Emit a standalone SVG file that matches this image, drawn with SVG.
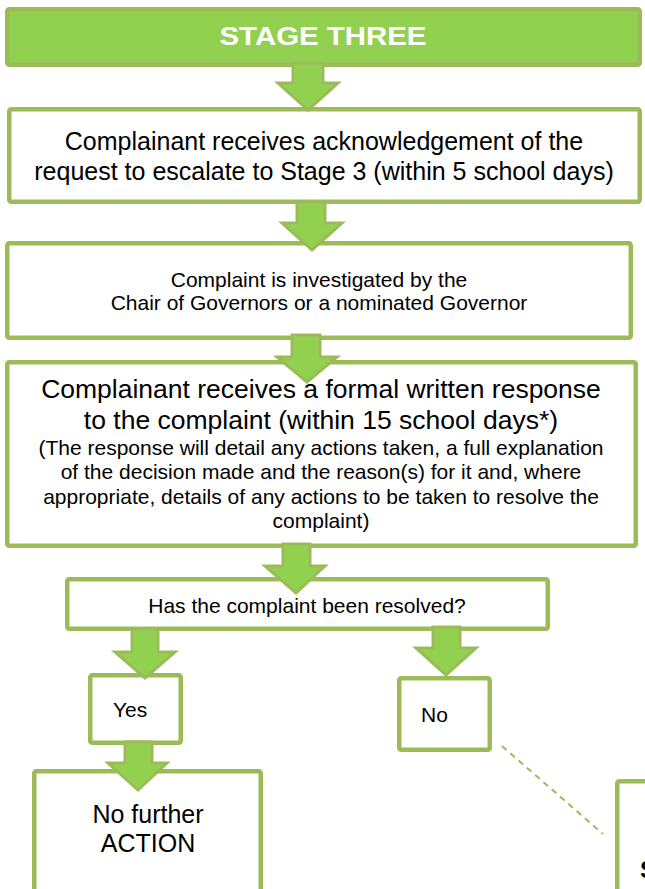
<svg xmlns="http://www.w3.org/2000/svg" width="645" height="889" viewBox="0 0 645 889">
<style>
.box{fill:#ffffff;stroke:#9BBB59;stroke-width:4.5;}
.hdr{fill:#92D050;stroke:#9BBB59;stroke-width:4.5;}
.arr{fill:#92D050;stroke:#9BBB59;stroke-width:3;stroke-linejoin:miter;}
.dash{fill:none;stroke:#9BBB59;stroke-width:2;stroke-dasharray:6 5;}
text{font-family:"Liberation Sans",Arial,sans-serif;fill:#000000;}
.c{text-anchor:middle;}
.big{font-size:25px;}
.mid{font-size:26.5px;}
.sm{font-size:21px;}
.ht{font-size:26px;font-weight:bold;fill:#ffffff;}
</style>
<rect width="645" height="889" fill="#ffffff"/>
<g id="header">
<rect class="hdr" x="7.25" y="9.25" width="632.5" height="55.5" rx="2"/>
<text class="ht c" x="323" y="45" textLength="207" lengthAdjust="spacingAndGlyphs">STAGE THREE</text>
</g>
<g id="box1">
<rect class="box" x="9.25" y="109.25" width="630.5" height="92.5" rx="2"/>
<text class="big c" x="324" y="150">Complainant receives acknowledgement of the</text>
<text class="big c" x="324" y="180">request to escalate to Stage 3 (within 5 school days)</text>
</g>
<g id="box2">
<rect class="box" x="7.25" y="243.25" width="623.5" height="94.5" rx="2"/>
<text class="sm c" x="319" y="287">Complaint is investigated by the</text>
<text class="sm c" x="319" y="310">Chair of Governors or a nominated Governor</text>
</g>
<g id="box3">
<rect class="box" x="7.25" y="362.25" width="628.5" height="183.5" rx="2"/>
<text class="mid c" x="321" y="398">Complainant receives a formal written response</text>
<text class="mid c" x="321" y="429">to the complaint (within 15 school days*)</text>
<text class="sm c" x="321" y="455">(The response will detail any actions taken, a full explanation</text>
<text class="sm c" x="321" y="479">of the decision made and the reason(s) for it and, where</text>
<text class="sm c" x="321" y="504">appropriate, details of any actions to be taken to resolve the</text>
<text class="sm c" x="321" y="528">complaint)</text>
</g>
<g id="decision">
<rect class="box" x="67.25" y="579.25" width="480.5" height="49.5" rx="2"/>
<text class="sm c" x="307" y="613">Has the complaint been resolved?</text>
</g>
<g id="yes">
<rect class="box" x="90.25" y="675.25" width="90.5" height="67.5" rx="2"/>
<text class="sm" x="113" y="717">Yes</text>
</g>
<g id="no">
<rect class="box" x="399.25" y="678.25" width="90.5" height="71.5" rx="2"/>
<text class="sm" x="421" y="722">No</text>
</g>
<g id="nofurther">
<rect class="box" x="34.25" y="771.25" width="226.5" height="130" rx="2"/>
<text class="big c" x="148" y="823">No further</text>
<text class="big c" x="148" y="852">ACTION</text>
</g>
<g id="stage4">
<rect class="box" x="617.25" y="781.25" width="100" height="150" rx="2"/>
<text x="640" y="878" style="font-size:24px;font-weight:bold;">S</text>
</g>
<g id="connectors">
<path class="arr" d="M293,63 L323,63 L323,83 L338,83 L308,110 L278,83 L293,83 Z"/>
<path class="arr" d="M297,202 L325,202 L325,223 L342,223 L312,250 L282,223 L297,223 Z"/>
<path class="arr" d="M292,335 L320,335 L320,357 L337,357 L307,382 L277,357 L292,357 Z"/>
<path class="arr" d="M283,544 L310,544 L310,566 L325,566 L296,593 L265,566 L283,566 Z"/>
<path class="arr" d="M132,629 L158,629 L158,652 L175,652 L145,678 L115,652 L132,652 Z"/>
<path class="arr" d="M433,627 L460,627 L460,648 L476,648 L446,675 L416,648 L433,648 Z"/>
<path class="arr" d="M125,742 L152,742 L152,763 L167,763 L138,790 L108,763 L125,763 Z"/>
<line class="dash" x1="502" y1="746" x2="603" y2="834"/>
</g>
</svg>
